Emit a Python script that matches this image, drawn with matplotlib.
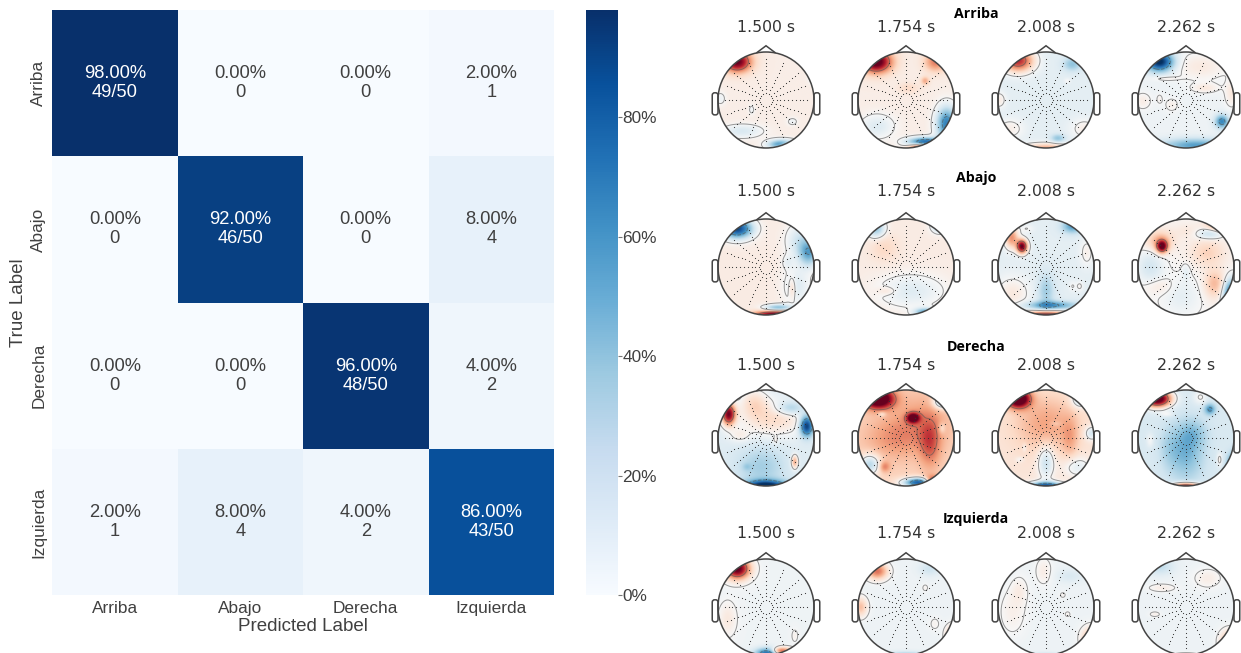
import matplotlib
matplotlib.use('Agg')
import matplotlib.pyplot as plt
import numpy as np
from matplotlib.patches import Circle, FancyBboxPatch, Polygon

W, H = 1241, 653

classes = ['Arriba', 'Abajo', 'Derecha', 'Izquierda']
counts = [[49, 0, 0, 1],
          [0, 46, 0, 4],
          [0, 0, 48, 2],
          [1, 4, 2, 43]]
row_total = [50, 50, 50, 50]
cbar_ticks = [0, 20, 40, 60, 80]
vmax_pct = 98

times = ['1.500 s', '1.754 s', '2.008 s', '2.262 s']
head_x = [766, 906, 1046, 1186]
head_y = [100, 267, 438, 607]
title_y = [27, 192, 365, 534]
class_title_y = [14, 178, 347, 519]

# (x, y, amplitude, width x, width y) of the patches
base_levels = [[.07, .07, -.1, -.05],
               [.08, .08, -.1, .03],
               [-.12, .22, .12, -.15],
               [-.04, -.05, -.05, -.05]]
arriba_blobs = [
    [(-.6, .8, .95, .2, .15), (.35, -.93, -.8, .2, .07), (.45, -1, .9, .12, .07), (-.5, -.65, -.22, .3, .1),
     (-.3, -.2, -.1, .05, .08), (.55, -.45, -.12, .08, .06), (-.95, .03, -.12, .08, .1), (.95, .45, -.1, .06, .08)],
    [(-.62, .8, 1.05, .22, .16), (.62, .8, .45, .16, .14), (.4, -.88, -.9, .25, .07), (.3, -1, 1, .15, .06),
     (.85, -.5, -.75, .15, .25), (-.6, -.55, -.2, .25, .18), (.4, .4, .3, .06, .06), (.05, .25, .12, .15, .08)],
    [(-.58, .82, .85, .22, .16), (.55, .75, -.3, .13, .1), (0, -1.02, .5, .35, .08), (.25, -.8, -.3, .1, .06),
     (-.75, -.6, .16, .2, .15), (.8, -.6, .16, .2, .15), (-.98, 0, .18, .1, .12), (.45, .4, .1, .05, .04)],
    [(-.55, .8, -1, .2, .14), (.3, .7, .14, .4, .2), (.75, -.45, -.6, .1, .1), (.2, -.95, -.5, .5, .1),
     (.95, .15, .15, .1, .2), (-.9, -.02, .12, .12, .12), (-.3, -.1, .1, .1, .1), (-.55, .02, .08, .05, .08),
     (.4, .25, .14, .2, .07), (-.45, .45, .1, .2, .04)],
]
abajo_blobs = [
    [(-.6, .8, -1, .22, .14), (.9, .3, -.55, .15, .2), (.2, -1, 1, .3, .06), (.25, -.85, -.5, .2, .05),
     (.65, -.4, -.2, .2, .3), (.7, .55, -.25, .2, .25), (.55, -.45, .2, .05, .15), (.45, .1, -.12, .08, .1)],
    [(-.62, .8, -.45, .13, .13), (.7, .85, -.35, .12, .1), (.1, -.5, -.2, .5, .25), (.4, -.95, -.7, .15, .06),
     (.45, -1.02, .8, .12, .05), (-.4, -.5, .12, .15, .06), (-.45, .4, .12, .2, .2)],
    [(-.5, .43, 1.1, .08, .1), (-.72, .62, .55, .1, .16), (.55, .85, -.45, .15, .1), (0, -1.03, 1.1, .35, .07),
     (.1, -.8, -.5, .35, .06), (0, -.5, -.25, .12, .25), (-.7, -.55, .2, .25, .25), (.85, .3, .15, .1, .2),
     (.55, -.4, .1, .05, .08), (.7, -.4, .12, .06, .08), (-.4, .8, .1, .1, .06)],
    [(-.5, .43, .95, .08, .09), (-.55, .55, .3, .2, .15), (.5, .7, -.3, .2, .08), (.7, .85, .35, .2, .1),
     (.6, -.35, .3, .15, .2), (.95, -.55, -.8, .12, .2), (-.75, 0, -.2, .2, .25), (-.1, -.6, -.12, .3, .3),
     (.45, .3, .2, .25, .2), (-.55, -.4, .1, .2, .12), (.05, .75, .08, .2, .1), (0, -.1, -.1, .06, .12)],
]
derecha_blobs = [
    [(-.78, .5, 1.05, .1, .16), (.85, .25, -.9, .1, .15), (0, -1.02, -1.1, .3, .09), (.15, .4, .3, .5, .25),
     (-.25, .75, .25, .2, .2), (.6, -.5, .5, .05, .1), (-.1, -.6, -.22, .35, .3), (.5, .62, -.3, .2, .1),
     (-.4, -.6, -.12, .06, .05), (.2, -.05, .12, .04, .06), (-.55, .05, .15, .15, .1)],
    [(-.58, .82, 1.2, .22, .14), (.15, .42, .95, .09, .07), (.5, -.1, .35, .15, .35), (.3, -.93, -1.1, .25, .07),
     (.55, -.92, .95, .12, .08), (-.75, -.55, -.5, .15, .15), (.75, .75, -.55, .13, .1), (.3, .3, .22, .4, .4),
     (-.3, 0, .2, .4, .3), (-.45, -.6, .3, .08, .08), (.75, .2, -.2, .05, .08), (-.5, .5, -.2, .06, .04)],
    [(-.58, .82, 1.25, .17, .13), (0, -1.02, -1.1, .25, .07), (0, .3, .28, .45, .4), (.5, 0, .2, .12, .3),
     (0, -.5, -.35, .12, .25), (.7, .8, -.35, .12, .12), (.65, -.6, -.22, .2, .15), (.95, .1, -.3, .1, .1),
     (.2, .3, -.1, .08, .04), (-.45, -.2, -.14, .03, .06), (-.55, -.45, -.12, .06, .04)],
    [(-.6, .82, 1.35, .2, .12), (0, -1.03, 1.2, .2, .06), (0, -.3, -.32, .25, .4), (.5, .6, -.45, .08, .08),
     (.15, .1, -.18, .2, .2), (.98, -.55, -.6, .08, .15), (-.35, -.2, -.12, .15, .3), (.3, .85, .17, .1, .1),
     (.7, -.45, .2, .04, .1), (-.4, .5, .14, .1, .04), (-.75, -.05, .14, .05, .1)],
]
izquierda_blobs = [
    [(-.6, .8, 1.1, .18, .15), (.3, -.93, 1, .15, .06), (.1, -.97, -.95, .2, .08), (-.8, -.25, .14, .13, .25),
     (.6, -.6, .08, .05, .1)],
    [(-.6, .75, .6, .15, .12), (0, -1.05, -.7, .3, .06), (.98, -.6, .5, .1, .14), (-.95, 0, .35, .1, .14),
     (.5, .8, -.15, .15, .1), (.4, .4, .08, .05, .06), (.6, -.35, .08, .08, .1)],
    [(.95, -.65, .42, .14, .16), (0, -1.05, -.5, .25, .05), (-.7, -.1, .1, .2, .35), (-.05, .75, .12, .12, .2),
     (.5, .65, -.1, .2, .1), (.35, .25, .08, .05, .05), (.45, -.15, .08, .05, .05), (-.55, .35, .1, .12, .2)],
    [(.92, -.72, .45, .14, .16), (.45, .6, .12, .2, .14), (-.55, .85, -.2, .2, .12), (0, -1.05, .35, .2, .05),
     (-.5, .4, .12, .2, .06), (-.65, -.15, .1, .08, .04)],
]
all_blobs = [arriba_blobs, abajo_blobs, derecha_blobs, izquierda_blobs]

# sensor layout: spokes and rings of the montage
spoke_angles = [0, 20, 40, 65, 90, 115, 140, 160, 180, 200, 220, 245, 270, 295, 320, 340]
ring_radii = [.14, .22, .3, .38, .46, .54, .62, .7, .78, .86]

TEXT = '#404040'
SANS = ['Liberation Sans', 'DejaVu Sans']


def add_px_axes(left, top, width, height):
    return plt.gcf().add_axes([left / W, 1 - (top + height) / H, width / W, height / H])


def draw_confusion():
    ax = add_px_axes(52, 10, 502, 585)
    data = np.array(counts) / np.array(row_total)[:, None] * 100
    mesh = ax.pcolormesh(data, cmap='Blues', vmin=0, vmax=vmax_pct)
    ax.invert_yaxis()
    for i, row in enumerate(counts):
        for j, n in enumerate(row):
            label = f'{data[i, j]:.2f}%\n{n}/{row_total[i]}' if n and i == j else f'{data[i, j]:.2f}%\n{n}'
            ax.text(j + .5, i + .5, label, ha='center', va='center', fontsize=13.2, family=SANS,
                    linespacing=1.15, color='white' if data[i, j] > 50 else TEXT)
    ax.set_xticks(np.arange(4) + .5, classes, fontsize=12.4, family=SANS, color=TEXT)
    ax.set_yticks(np.arange(4) + .5, classes, fontsize=12.4, family=SANS, color=TEXT,
                  rotation=90, va='center')
    ax.tick_params(length=0, pad=4)
    ax.set_xlabel('Predicted Label', fontsize=13.5, family=SANS, color=TEXT, labelpad=2)
    ax.set_ylabel('True Label', fontsize=13.5, family=SANS, color=TEXT, labelpad=3)
    for spine in ax.spines.values():
        spine.set_visible(False)

    cax = add_px_axes(586, 10, 32, 585)
    cbar = plt.colorbar(mesh, cax=cax)
    cbar.set_ticks(cbar_ticks, labels=[f'{t}%' for t in cbar_ticks])
    cbar.ax.tick_params(length=3, width=.8, color='#777777', labelcolor=TEXT, labelsize=12.4, pad=0)
    for label in cbar.ax.get_yticklabels():
        label.set_family(SANS)
    cbar.outline.set_visible(False)


def draw_head(cx, cy, level, blobs):
    size = 120
    ax = add_px_axes(cx - size / 2, cy - size / 2, size, size)
    lim = size / 2 / 48
    ax.set_xlim(-lim, lim)
    ax.set_ylim(-lim, lim)
    ax.axis('off')
    ax.patch.set_alpha(0)

    grid = np.linspace(-1.02, 1.02, 240)
    xx, yy = np.meshgrid(grid, grid)
    field = np.full(xx.shape, float(level))
    for bx, by, amp, sx, sy in blobs:
        field += amp * np.exp(-((xx - bx) / sx) ** 2 / 2 - ((yy - by) / sy) ** 2 / 2)

    outline = Circle((0, 0), 1, transform=ax.transData)
    im = ax.imshow(field, extent=(-1.02, 1.02, -1.02, 1.02), origin='lower', cmap='RdBu_r',
                   vmin=-1, vmax=1, interpolation='bilinear')
    im.set_clip_path(outline)
    cs = ax.contour(xx, yy, field, levels=[-.55, 0.0, .55], colors='#555555', linewidths=.7, alpha=.6)
    cs.set_clip_path(outline)

    angles = np.deg2rad(spoke_angles)
    for r in ring_radii:
        ax.scatter(r * np.cos(angles), r * np.sin(angles), s=.7, c='#333333', linewidths=0, zorder=3)

    line = dict(fill=False, edgecolor='#444444', linewidth=1.1, zorder=4)
    ax.add_patch(Circle((0, 0), 1, **line))
    ax.add_patch(Polygon([(-.2, .98), (0, 1.13), (.2, .98)], closed=False, **line))
    for side in (-1, 1):
        ear_x = 1.0 if side > 0 else -1.12
        ax.add_patch(FancyBboxPatch((ear_x, -.31), .12, .46, boxstyle='round,pad=0,rounding_size=.05', **line))


fig = plt.figure(figsize=(W / 100, H / 100), dpi=100, facecolor='white')
draw_confusion()

for r, name in enumerate(classes):
    fig.text(976 / W, 1 - class_title_y[r] / H, name, ha='center', va='center', fontsize=10.2,
             fontweight='bold', family=['Open Sans', 'DejaVu Sans'], color='black', zorder=6)
    for c, t in enumerate(times):
        fig.text(head_x[c] / W, 1 - title_y[r] / H, t, ha='center', va='center', fontsize=11.3,
                 family='DejaVu Sans', color='#333333')
        draw_head(head_x[c], head_y[r], base_levels[r][c], all_blobs[r][c])

fig.savefig('out.png', dpi=100)
